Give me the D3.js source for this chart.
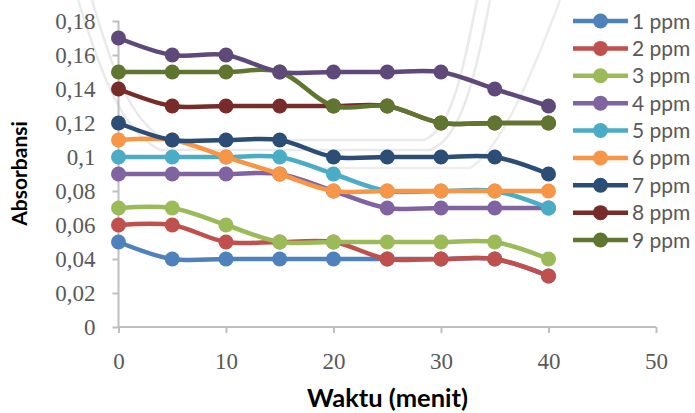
<!DOCTYPE html>
<html><head><meta charset="utf-8">
<script src="https://cdn.jsdelivr.net/npm/d3@7"></script>
<style>
html,body{margin:0;padding:0;background:#fff;}
svg{display:block;}
</style></head>
<body>
<svg id="chart" width="695" height="413"></svg>
<script>
// ---- data ----
const times = [0, 5, 10, 15, 20, 25, 30, 35, 40];
const seriesNames = ["1 ppm","2 ppm","3 ppm","4 ppm","5 ppm","6 ppm","7 ppm","8 ppm","9 ppm","10 ppm"];
const s1  = [0.05, 0.04, 0.04, 0.04, 0.04, 0.04, 0.04, 0.04, 0.03];
const s2  = [0.06, 0.06, 0.05, 0.05, 0.05, 0.04, 0.04, 0.04, 0.03];
const s3  = [0.07, 0.07, 0.06, 0.05, 0.05, 0.05, 0.05, 0.05, 0.04];
const s4  = [0.09, 0.09, 0.09, 0.09, 0.08, 0.07, 0.07, 0.07, 0.07];
const s5  = [0.10, 0.10, 0.10, 0.10, 0.09, 0.08, 0.08, 0.08, 0.07];
const s6  = [0.11, 0.11, 0.10, 0.09, 0.08, 0.08, 0.08, 0.08, 0.08];
const s7  = [0.12, 0.11, 0.11, 0.11, 0.10, 0.10, 0.10, 0.10, 0.09];
const s8  = [0.14, 0.13, 0.13, 0.13, 0.13, 0.13, 0.12, 0.12, 0.12];
const s9  = [0.15, 0.15, 0.15, 0.15, 0.13, 0.13, 0.12, 0.12, 0.12];
const s10 = [0.17, 0.16, 0.16, 0.15, 0.15, 0.15, 0.15, 0.14, 0.13];
const seriesValues = [s1, s2, s3, s4, s5, s6, s7, s8, s9, s10];
const colors = ["#4F81BD","#C0504D","#9BBB59","#8064A2","#4BACC6","#F79646","#2C4D75","#772C2A","#5F7530","#5F497A"];
const yTicks = [0, 0.02, 0.04, 0.06, 0.08, 0.1, 0.12, 0.14, 0.16, 0.18];
const yTickLabels = ["0","0,02","0,04","0,06","0,08","0,1","0,12","0,14","0,16","0,18"];
const xTicks = [0, 10, 20, 30, 40, 50];
const legendCount = 9;

// ---- layout ----
const svg = d3.select("#chart");
const x = d3.scaleLinear().domain([0, 50]).range([118.5, 656]);
const y = d3.scaleLinear().domain([0, 0.18]).range([327, 21]);
const grey = "#595959";
const axisCol = "#BFBFBF";

// watermark (decorative background)
const wm = svg.append("g").attr("fill","none").attr("stroke","#EAEAEA").attr("stroke-width",2.5);
wm.append("path").attr("d","M78,0 C100,70 120,130 160,150 L430,150 C460,140 475,80 490,0");
wm.append("path").attr("d","M92,0 C112,68 130,122 166,140 L424,140 C450,130 462,78 477,0");
wm.append("path").attr("d","M320,168 L470,168 C500,150 530,80 560,0").attr("stroke","#EDEDED");

// axes
const yAxis = d3.axisLeft(y).tickValues(yTicks).tickSize(6).tickFormat((d,i)=>yTickLabels[i]);
const gy = svg.append("g").attr("transform",`translate(${x(0)},0)`).call(yAxis);
gy.select(".domain").attr("stroke",axisCol).attr("stroke-width",2).attr("d",`M0,${y(0)}V${y(0.18)}`);
gy.selectAll(".tick line").attr("stroke",axisCol).attr("stroke-width",2);
gy.selectAll(".tick text").attr("x",-23).attr("fill",grey)
  .style("font-family","'Liberation Serif', 'Times New Roman', serif").style("font-size","23px");

const xAxis = d3.axisBottom(x).tickValues(xTicks).tickSize(6).tickFormat(d3.format("d"));
const gx = svg.append("g").attr("transform",`translate(0,${y(0)})`).call(xAxis);
gx.select(".domain").attr("stroke",axisCol).attr("stroke-width",2).attr("d",`M${x(0)},0H${x(50)}`);
gx.selectAll(".tick line").attr("stroke",axisCol).attr("stroke-width",2);
gx.selectAll(".tick text").attr("y",26).attr("fill",grey)
  .style("font-family","'Liberation Serif', 'Times New Roman', serif").style("font-size","23px");

// axis titles
svg.append("text").attr("transform",`translate(27,173.5) rotate(-90)`)
  .attr("text-anchor","middle").attr("font-family","Lato, 'Open Sans', sans-serif")
  .attr("font-weight","bold").attr("font-size","21px").attr("fill","#000").text("Absorbansi");
svg.append("text").attr("x",387.5).attr("y",407)
  .attr("text-anchor","middle").attr("font-family","Lato, 'Open Sans', sans-serif")
  .attr("font-weight","bold").attr("font-size","25.5px").attr("fill","#000").text("Waktu (menit)");

// series
const line = d3.line().x((d,i)=>x(times[i])).y(d=>y(d)).curve(d3.curveCatmullRom.alpha(0.5));
const plot = svg.append("g");
seriesValues.forEach((vals, k) => {
  const g = plot.append("g");
  g.append("path").attr("d", line(vals)).attr("fill","none")
    .attr("stroke", colors[k]).attr("stroke-width",4.5).attr("stroke-linejoin","round");
  g.selectAll("circle").data(vals).join("circle")
    .attr("cx",(d,i)=>x(times[i])).attr("cy",d=>y(d)).attr("r",7.5)
    .attr("fill",colors[k]);
});

// legend
const leg = svg.append("g");
const legY = d3.scaleLinear().domain([0, 8]).range([21, 240]);
for (let k = 0; k < legendCount; k++) {
  const ly = legY(k);
  leg.append("line").attr("x1",573).attr("x2",628).attr("y1",ly).attr("y2",ly)
    .attr("stroke",colors[k]).attr("stroke-width",4.5);
  leg.append("circle").attr("cx",600.5).attr("cy",ly).attr("r",7.5).attr("fill",colors[k]);
  leg.append("text").attr("x",632).attr("y",ly).attr("dy","0.36em")
    .attr("font-family","Lato, 'Open Sans', sans-serif").attr("font-size","21px")
    .attr("fill",grey).text(seriesNames[k]);
}
</script>
</body></html>
